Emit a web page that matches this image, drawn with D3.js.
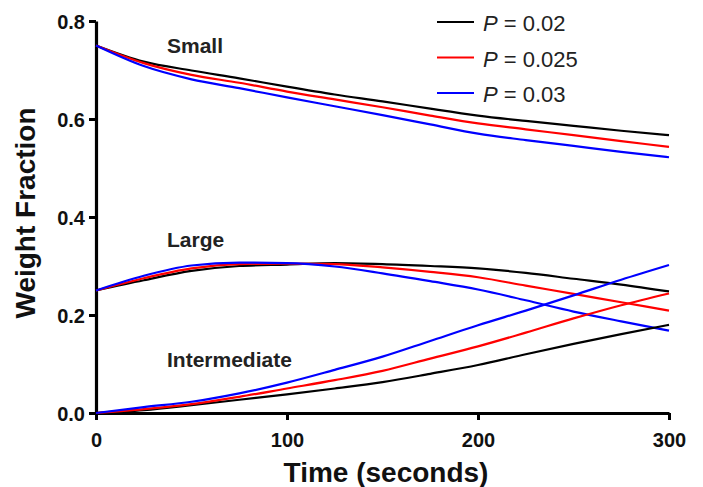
<!DOCTYPE html>
<html>
<head>
<meta charset="utf-8">
<script src="https://cdn.jsdelivr.net/npm/d3@7"></script>
<style>
  body { margin: 0; background: #fff; }
  svg { font-family: "Liberation Sans", Arial, sans-serif; }
</style>
</head>
<body>
<svg id="chart" width="703" height="487"></svg>
<script>
// time points (seconds)
const times = [0, 25, 50, 75, 100, 125, 150, 175, 200, 225, 250, 275, 300]

const seriesNames = ['P = 0.02', 'P = 0.025', 'P = 0.03']
const seriesColors = ['#000000', '#ff0000', '#0000ff']

// weight fraction, one array per P value
const small = [
  [0.75, 0.717, 0.699, 0.683, 0.666, 0.650, 0.636, 0.621, 0.607, 0.596, 0.586, 0.576, 0.567],
  [0.75, 0.714, 0.690, 0.674, 0.656, 0.640, 0.624, 0.607, 0.591, 0.579, 0.567, 0.555, 0.543],
  [0.75, 0.708, 0.681, 0.663, 0.644, 0.626, 0.608, 0.589, 0.570, 0.557, 0.545, 0.533, 0.522]
]
const large = [
  [0.25, 0.271, 0.290, 0.300, 0.303, 0.306, 0.304, 0.300, 0.295, 0.286, 0.274, 0.262, 0.248],
  [0.25, 0.275, 0.295, 0.304, 0.305, 0.304, 0.297, 0.288, 0.277, 0.260, 0.243, 0.226, 0.209],
  [0.25, 0.280, 0.301, 0.307, 0.306, 0.299, 0.285, 0.269, 0.252, 0.230, 0.207, 0.187, 0.168]
]
const intermediate = [
  [0, 0.006, 0.016, 0.027, 0.038, 0.050, 0.063, 0.080, 0.098, 0.120, 0.141, 0.161, 0.180],
  [0, 0.008, 0.018, 0.033, 0.050, 0.067, 0.086, 0.111, 0.136, 0.164, 0.193, 0.220, 0.244],
  [0, 0.012, 0.023, 0.040, 0.062, 0.088, 0.115, 0.147, 0.179, 0.209, 0.240, 0.272, 0.302]
]

const xTicks = [0, 100, 200, 300]
const yTicks = [0, 0.2, 0.4, 0.6, 0.8]

const svg = d3.select('#chart')

const x = d3.scaleLinear().domain([0, 300]).range([96, 669])
const y = d3.scaleLinear().domain([0, 0.8]).range([413, 21])

const line = d3.line()
  .x((d, i) => x(times[i]))
  .y(d => y(d))
  .curve(d3.curveMonotoneX)

// axes
const xAxis = svg.append('g')
  .attr('transform', `translate(0,${y(0)})`)
  .call(d3.axisBottom(x).tickValues(xTicks).tickFormat(d3.format('d')).tickSize(7).tickSizeOuter(0))
const yAxis = svg.append('g')
  .attr('transform', `translate(${x(0)},0)`)
  .call(d3.axisLeft(y).tickValues(yTicks).tickFormat(d3.format('.1f')).tickSize(7).tickSizeOuter(0))

;[xAxis, yAxis].forEach(a => {
  a.select('.domain').attr('stroke', '#000').attr('stroke-width', 3.2)
  a.selectAll('.tick line').attr('stroke', '#000').attr('stroke-width', 3)
  a.selectAll('.tick text')
    .attr('fill', '#111')
    .attr('font-size', 20)
    .attr('font-weight', 'bold')
    .attr('font-family', '"Liberation Sans", Arial, sans-serif')
})
xAxis.selectAll('.tick text').attr('dy', null).attr('y', 34)
yAxis.selectAll('.tick text').attr('x', -11).attr('dy', '0.35em')

// curves
const groups = [small, large, intermediate]
groups.forEach(group => {
  group.forEach((vals, i) => {
    svg.append('path')
      .datum(vals)
      .attr('fill', 'none')
      .attr('stroke', seriesColors[i])
      .attr('stroke-width', 2.2)
      .attr('d', line)
  })
})

// group labels
const labelStyle = sel => sel
  .attr('font-size', 21)
  .attr('font-weight', 'bold')
  .attr('fill', '#222')
svg.append('text').attr('x', 167).attr('y', 53).text('Small').call(labelStyle)
svg.append('text').attr('x', 167).attr('y', 247).text('Large').call(labelStyle)
svg.append('text').attr('x', 167).attr('y', 367).text('Intermediate').call(labelStyle)

// legend
const legend = svg.append('g')
seriesNames.forEach((name, i) => {
  const ly = 22 + i * 35.5
  legend.append('line')
    .attr('x1', 437).attr('x2', 474)
    .attr('y1', ly).attr('y2', ly)
    .attr('stroke', seriesColors[i])
    .attr('stroke-width', 2.2)
  const t = legend.append('text')
    .attr('x', 483).attr('y', ly + 9)
    .attr('font-size', 22)
    .attr('fill', '#222')
  t.append('tspan').attr('font-style', 'italic').text('P')
  t.append('tspan').text(name.slice(1))
})

// axis titles
svg.append('text')
  .attr('x', 386).attr('y', 482)
  .attr('text-anchor', 'middle')
  .attr('font-size', 28)
  .attr('font-weight', 'bold')
  .attr('fill', '#111')
  .text('Time (seconds)')
svg.append('text')
  .attr('transform', 'translate(35,213) rotate(-90)')
  .attr('text-anchor', 'middle')
  .attr('font-size', 28)
  .attr('font-weight', 'bold')
  .attr('fill', '#111')
  .text('Weight Fraction')
</script>
</body>
</html>
